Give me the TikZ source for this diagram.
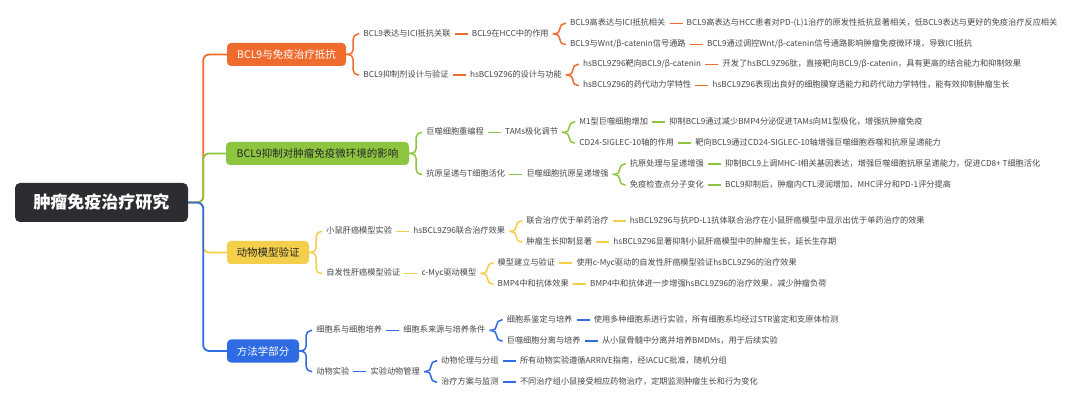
\documentclass[tikz,border=0pt]{standalone}
\usepackage{fontspec}
\newfontfamily\cjk{Noto Sans CJK SC}
\definecolor{cO}{HTML}{EF6B2E}
\definecolor{cG}{HTML}{8DC540}
\definecolor{cY}{HTML}{F4CF4B}
\definecolor{cB}{HTML}{2F6BE3}
\definecolor{cR}{HTML}{2B2D31}
\definecolor{txt}{HTML}{474747}
\begin{document}
\begin{tikzpicture}[x=1pt,y=-1pt,
  lv/.style={anchor=west,font=\cjk\fontsize{8.2}{9.5}\selectfont,text=txt,inner xsep=4pt,inner ysep=1pt,text height=6.6pt,text depth=1.6pt},
  mainbox/.style={rounded corners=4pt,minimum height=23pt,inner sep=0pt,font=\cjk\fontsize{10.5}{12}\selectfont},
  conn/.style={line width=1.5pt,rounded corners=5pt},
  trunk/.style={line width=1.8pt,rounded corners=6pt}]
\useasboundingbox[fill=white] (0,0) rectangle (1080,406);

% root
\node[fill=cR,rounded corners=5pt,minimum width=173pt,minimum height=39pt,inner sep=0pt,text=white,font=\cjk\bfseries\fontsize{17}{20}\selectfont] (root) at (101.5,202.5) {肿瘤免疫治疗研究};

% main nodes
\node[mainbox,fill=cO,text=white,minimum width=119pt] (m1) at (286.5,54.5) {BCL9与免疫治疗抵抗};
\node[mainbox,fill=cG,text=black!85,minimum width=183pt] (m2) at (317.5,153.5) {BCL9抑制对肿瘤免疫微环境的影响};
\node[mainbox,fill=cY,text=black!85,minimum width=82pt] (m3) at (268,252.5) {动物模型验证};
\node[mainbox,fill=cB,text=white,minimum width=72pt] (m4) at (263,351) {方法学部分};

% trunk connectors
\draw[trunk,cO] (root.east) -- ++(15,0) |- (m1.west);
\draw[trunk,cG] (root.east) -- ++(15,0) |- (m2.west);
\draw[trunk,cY] (root.east) -- ++(15,0) |- (m3.west);
\draw[trunk,cB] (root.east) -- ++(15,0) |- (m4.west);

% ---------- branch 1 ----------
\path (m1.east) ++(13,-20.5) node[lv] (a1) {BCL9表达与ICI抵抗关联};
\path (m1.east) ++(13,20.5) node[lv] (a2) {BCL9抑制剂设计与验证};
\path (a1.east) ++(13,0) node[lv] (a11) {BCL9在HCC中的作用};
\path (a11.east) ++(13,-10.5) node[lv] (a111) {BCL9高表达与ICI抵抗相关};
\path (a11.east) ++(13,10.5) node[lv] (a112) {BCL9与Wnt/β-catenin信号通路};
\path (a111.east) ++(13,0) node[lv] (a1111) {BCL9高表达与HCC患者对PD-(L)1治疗的原发性抵抗显著相关，低BCL9表达与更好的免疫治疗反应相关};
\path (a112.east) ++(13,0) node[lv] (a1121) {BCL9通过调控Wnt/β-catenin信号通路影响肿瘤免疫微环境，导致ICI抵抗};
\path (a2.east) ++(13,0) node[lv] (a21) {hsBCL9Z96的设计与功能};
\path (a21.east) ++(13,-10.5) node[lv] (a211) {hsBCL9Z96靶向BCL9/β-catenin};
\path (a21.east) ++(13,10.5) node[lv] (a212) {hsBCL9Z96的药代动力学特性};
\path (a211.east) ++(13,0) node[lv] (a2111) {开发了hsBCL9Z96肽，直接靶向BCL9/β-catenin，具有更高的结合能力和抑制效果};
\path (a212.east) ++(13,0) node[lv] (a2121) {hsBCL9Z96表现出良好的细胞膜穿透能力和药代动力学特性，能有效抑制肿瘤生长};
\begin{scope}[conn,cO]
\draw (m1.east) -- ++(7,0) |- (a1.west);
\draw (m1.east) -- ++(7,0) |- (a2.west);
\draw (a1.east) -- (a11.west);
\draw (a11.east) -- ++(7,0) |- (a111.west);
\draw (a11.east) -- ++(7,0) |- (a112.west);
\draw (a111.east) -- (a1111.west);
\draw (a112.east) -- (a1121.west);
\draw (a2.east) -- (a21.west);
\draw (a21.east) -- ++(7,0) |- (a211.west);
\draw (a21.east) -- ++(7,0) |- (a212.west);
\draw (a211.east) -- (a2111.west);
\draw (a212.east) -- (a2121.west);
\end{scope}

% ---------- branch 2 ----------
\path (m2.east) ++(13,-21) node[lv] (b1) {巨噬细胞重编程};
\path (m2.east) ++(13,21) node[lv] (b2) {抗原呈递与T细胞活化};
\path (b1.east) ++(13,0) node[lv] (b11) {TAMs极化调节};
\path (b11.east) ++(13,-10.5) node[lv] (b111) {M1型巨噬细胞增加};
\path (b11.east) ++(13,10.5) node[lv] (b112) {CD24-SIGLEC-10轴的作用};
\path (b111.east) ++(13,0) node[lv] (b1111) {抑制BCL9通过减少BMP4分泌促进TAMs向M1型极化，增强抗肿瘤免疫};
\path (b112.east) ++(13,0) node[lv] (b1121) {靶向BCL9通过CD24-SIGLEC-10轴增强巨噬细胞吞噬和抗原呈递能力};
\path (b2.east) ++(13,0) node[lv] (b21) {巨噬细胞抗原呈递增强};
\path (b21.east) ++(13,-10.5) node[lv] (b211) {抗原处理与呈递增强};
\path (b21.east) ++(13,10.5) node[lv] (b212) {免疫检查点分子变化};
\path (b211.east) ++(13,0) node[lv] (b2111) {抑制BCL9上调MHC-I相关基因表达，增强巨噬细胞抗原呈递能力，促进CD8+ T细胞活化};
\path (b212.east) ++(13,0) node[lv] (b2121) {BCL9抑制后，肿瘤内CTL浸润增加，MHC评分和PD-1评分提高};
\begin{scope}[conn,cG]
\draw (m2.east) -- ++(7,0) |- (b1.west);
\draw (m2.east) -- ++(7,0) |- (b2.west);
\draw (b1.east) -- (b11.west);
\draw (b11.east) -- ++(7,0) |- (b111.west);
\draw (b11.east) -- ++(7,0) |- (b112.west);
\draw (b111.east) -- (b1111.west);
\draw (b112.east) -- (b1121.west);
\draw (b2.east) -- (b21.west);
\draw (b21.east) -- ++(7,0) |- (b211.west);
\draw (b21.east) -- ++(7,0) |- (b212.west);
\draw (b211.east) -- (b2111.west);
\draw (b212.east) -- (b2121.west);
\end{scope}

% ---------- branch 3 ----------
\path (m3.east) ++(13,-21) node[lv] (c1) {小鼠肝癌模型实验};
\path (m3.east) ++(13,21) node[lv] (c2) {自发性肝癌模型验证};
\path (c1.east) ++(13,0) node[lv] (c11) {hsBCL9Z96联合治疗效果};
\path (c11.east) ++(13,-10.5) node[lv] (c111) {联合治疗优于单药治疗};
\path (c11.east) ++(13,10.5) node[lv] (c112) {肿瘤生长抑制显著};
\path (c111.east) ++(13,0) node[lv] (c1111) {hsBCL9Z96与抗PD-L1抗体联合治疗在小鼠肝癌模型中显示出优于单药治疗的效果};
\path (c112.east) ++(13,0) node[lv] (c1121) {hsBCL9Z96显著抑制小鼠肝癌模型中的肿瘤生长，延长生存期};
\path (c2.east) ++(13,0) node[lv] (c21) {c-Myc驱动模型};
\path (c21.east) ++(13,-10.5) node[lv] (c211) {模型建立与验证};
\path (c21.east) ++(13,10.5) node[lv] (c212) {BMP4中和抗体效果};
\path (c211.east) ++(13,0) node[lv] (c2111) {使用c-Myc驱动的自发性肝癌模型验证hsBCL9Z96的治疗效果};
\path (c212.east) ++(13,0) node[lv] (c2121) {BMP4中和抗体进一步增强hsBCL9Z96的治疗效果，减少肿瘤负荷};
\begin{scope}[conn,cY]
\draw (m3.east) -- ++(7,0) |- (c1.west);
\draw (m3.east) -- ++(7,0) |- (c2.west);
\draw (c1.east) -- (c11.west);
\draw (c11.east) -- ++(7,0) |- (c111.west);
\draw (c11.east) -- ++(7,0) |- (c112.west);
\draw (c111.east) -- (c1111.west);
\draw (c112.east) -- (c1121.west);
\draw (c2.east) -- (c21.west);
\draw (c21.east) -- ++(7,0) |- (c211.west);
\draw (c21.east) -- ++(7,0) |- (c212.west);
\draw (c211.east) -- (c2111.west);
\draw (c212.east) -- (c2121.west);
\end{scope}

% ---------- branch 4 ----------
\path (m4.east) ++(13,-20.5) node[lv] (d1) {细胞系与细胞培养};
\path (m4.east) ++(13,20.5) node[lv] (d2) {动物实验};
\path (d1.east) ++(13,0) node[lv] (d11) {细胞系来源与培养条件};
\path (d11.east) ++(13,-10.5) node[lv] (d111) {细胞系鉴定与培养};
\path (d11.east) ++(13,10.5) node[lv] (d112) {巨噬细胞分离与培养};
\path (d111.east) ++(13,0) node[lv] (d1111) {使用多种细胞系进行实验，所有细胞系均经过STR鉴定和支原体检测};
\path (d112.east) ++(13,0) node[lv] (d1121) {从小鼠骨髓中分离并培养BMDMs，用于后续实验};
\path (d2.east) ++(13,0) node[lv] (d21) {实验动物管理};
\path (d21.east) ++(13,-10.5) node[lv] (d211) {动物伦理与分组};
\path (d21.east) ++(13,10.5) node[lv] (d212) {治疗方案与监测};
\path (d211.east) ++(13,0) node[lv] (d2111) {所有动物实验遵循ARRIVE指南，经IACUC批准，随机分组};
\path (d212.east) ++(13,0) node[lv] (d2121) {不同治疗组小鼠接受相应药物治疗，定期监测肿瘤生长和行为变化};
\begin{scope}[conn,cB]
\draw (m4.east) -- ++(7,0) |- (d1.west);
\draw (m4.east) -- ++(7,0) |- (d2.west);
\draw (d1.east) -- (d11.west);
\draw (d11.east) -- ++(7,0) |- (d111.west);
\draw (d11.east) -- ++(7,0) |- (d112.west);
\draw (d111.east) -- (d1111.west);
\draw (d112.east) -- (d1121.west);
\draw (d2.east) -- (d21.west);
\draw (d21.east) -- ++(7,0) |- (d211.west);
\draw (d21.east) -- ++(7,0) |- (d212.west);
\draw (d211.east) -- (d2111.west);
\draw (d212.east) -- (d2121.west);
\end{scope}
\end{tikzpicture}
\end{document}
